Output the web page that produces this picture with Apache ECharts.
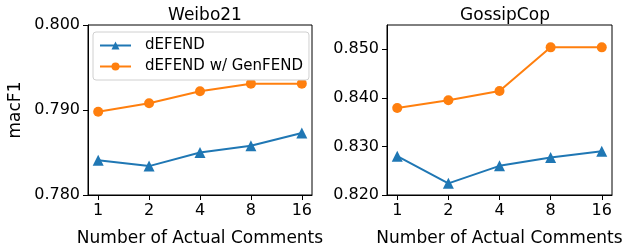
<!DOCTYPE html>
<html>
<head>
<meta charset="UTF-8"/>
<title></title>
<script src="https://cdn.jsdelivr.net/npm/echarts@6/dist/echarts.min.js"></script>
<style>
html, body { margin: 0; padding: 0; background: #fff; }
#chart { width: 631px; height: 252px; }
</style>
</head>
<body>
<div id="chart"></div>
<script>
// x categories (number of actual comments)
var comments = ['1', '2', '4', '8', '16'];
// Weibo21
var weiboDefend = [0.7841, 0.7834, 0.7850, 0.7858, 0.7873];
var weiboGen = [0.7898, 0.7908, 0.7922, 0.7931, 0.7931];
// GossipCop
var gossipDefend = [0.8280, 0.8224, 0.8260, 0.8277, 0.8290];
var gossipGen = [0.8379, 0.8395, 0.8414, 0.8504, 0.8504];
// y tick labels
var weiboTicks = [0.780, 0.790, 0.800];
var gossipTicks = [0.820, 0.830, 0.840, 0.850];

var blue = '#1f77b4', orange = '#ff7f0e';
var font = 'DejaVu Sans';
var idx = comments.map(function (c, i) { return i; });

function pairs(arr) {
  return arr.map(function (v, i) { return [i, v]; });
}

function xAxisOf(g) {
  return {
    type: 'value', gridIndex: g, min: -0.2, max: 4.2,
    name: 'Number of Actual Comments', nameLocation: 'middle', nameGap: 35,
    nameTextStyle: { fontFamily: font, fontSize: 17, color: '#000' },
    axisLine: { show: true, onZero: false, lineStyle: { color: '#000', width: 1 } },
    axisTick: { show: true, customValues: idx, length: 5, lineStyle: { color: '#000' } },
    axisLabel: {
      customValues: idx, margin: 8, fontFamily: font, fontSize: 16, color: '#000',
      formatter: function (v) { return comments[Math.round(v)]; }
    },
    splitLine: { show: false }
  };
}

function yAxisOf(g, lo, hi, ticks, name) {
  return {
    type: 'value', gridIndex: g, min: lo, max: hi,
    name: name, nameLocation: 'middle', nameGap: 64,
    nameTextStyle: { fontFamily: font, fontSize: 17, color: '#000' },
    axisLine: { show: true, onZero: false, lineStyle: { color: '#000', width: 1 } },
    axisTick: { show: true, customValues: ticks, length: 5, lineStyle: { color: '#000' } },
    axisLabel: {
      customValues: ticks, margin: 8, fontFamily: font, fontSize: 16, color: '#000',
      formatter: function (v) { return v.toFixed(3); }
    },
    splitLine: { show: false }
  };
}

var chart = echarts.init(document.getElementById('chart'));
var option = {
  animation: false,
  backgroundColor: '#fff',
  title: [
    { text: 'Weibo21', left: 200, top: 2, textAlign: 'center',
      textStyle: { fontFamily: font, fontSize: 17, fontWeight: 'normal', color: '#000' } },
    { text: 'GossipCop', left: 500, top: 2, textAlign: 'center',
      textStyle: { fontFamily: font, fontSize: 17, fontWeight: 'normal', color: '#000' } }
  ],
  legend: {
    orient: 'vertical', left: 93, top: 32,
    data: ['dEFEND', 'dEFEND w/ GenFEND'],
    itemWidth: 31, itemHeight: 10, itemGap: 6,
    padding: [6, 6, 6, 6],
    backgroundColor: '#fff', borderColor: '#d0d0d0', borderWidth: 1, borderRadius: 3,
    textStyle: { fontFamily: font, fontSize: 15, color: '#000', padding: [0, 0, 0, 9] }
  },
  grid: [
    { left: 88, top: 25, width: 224, height: 175, show: true, borderColor: '#000', borderWidth: 1 },
    { left: 387, top: 25, width: 225, height: 175, show: true, borderColor: '#000', borderWidth: 1 }
  ],
  xAxis: [xAxisOf(0), xAxisOf(1)],
  yAxis: [
    yAxisOf(0, 0.78, 0.80, weiboTicks, 'macF1'),
    yAxisOf(1, 0.82, 0.855, gossipTicks, '')
  ],
  series: [
    { name: 'dEFEND', type: 'line', xAxisIndex: 0, yAxisIndex: 0, data: pairs(weiboDefend),
      symbol: 'triangle', symbolSize: 11, color: blue, lineStyle: { width: 2 } },
    { name: 'dEFEND w/ GenFEND', type: 'line', xAxisIndex: 0, yAxisIndex: 0, data: pairs(weiboGen),
      symbol: 'circle', symbolSize: 10, color: orange, lineStyle: { width: 2 } },
    { name: 'dEFEND', type: 'line', xAxisIndex: 1, yAxisIndex: 1, data: pairs(gossipDefend),
      symbol: 'triangle', symbolSize: 11, color: blue, lineStyle: { width: 2 } },
    { name: 'dEFEND w/ GenFEND', type: 'line', xAxisIndex: 1, yAxisIndex: 1, data: pairs(gossipGen),
      symbol: 'circle', symbolSize: 10, color: orange, lineStyle: { width: 2 } }
  ]
};
chart.setOption(option);
</script>
</body>
</html>
